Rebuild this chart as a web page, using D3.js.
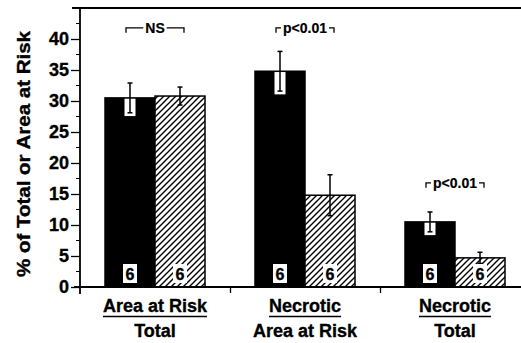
<!DOCTYPE html>
<html>
<head>
<meta charset="utf-8">
<script src="https://cdn.jsdelivr.net/npm/d3@7"></script>
<style>
  body { margin: 0; background: #fff; }
  svg text { font-family: "Liberation Sans", Arial, sans-serif; font-weight: bold; fill: #000; stroke: #000; stroke-width: 0.35px; }
</style>
</head>
<body>
<div id="body"></div>
<script>
// data
var groups = ['risk', 'necArea', 'necTotal'];
var labelTop = ['Area at Risk', 'Necrotic', 'Necrotic'];
var labelBottom = ['Total', 'Area at Risk', 'Total'];
var series = ['control', 'treated'];
var controlMean = [30.5, 34.8, 10.5];
var controlErr = [2.4, 3.2, 1.6];
var treatedMean = [30.8, 14.8, 4.7];
var treatedErr = [1.45, 3.3, 0.9];
var nLabels = [6, 6, 6];
var sigText = ['NS', 'p<0.01', 'p<0.01'];
var sigLevel = [41.8, 41.8, 16.8];
var yTicks = [0, 5, 10, 15, 20, 25, 30, 35, 40];
var yMinor = [2.5, 7.5, 12.5, 17.5, 22.5, 27.5, 32.5, 37.5, 42.5];

var width = 521, height = 343;

var svg = d3.select('#body').append('svg')
    .attr('width', width)
    .attr('height', height);

var y = d3.scaleLinear().domain([0, 45]).range([287, 8]);
var x0 = d3.scaleBand().domain(groups).range([80, 530]);
var x1 = d3.scaleBand().domain(series).range([25, 125]);
var xEdge = d3.scaleLinear().domain([0, 3]).range([80, 530]);

var defs = svg.append('defs');
var pat = defs.append('pattern')
    .attr('id', 'hatch')
    .attr('patternUnits', 'userSpaceOnUse')
    .attr('width', 6)
    .attr('height', 6);
pat.append('rect').attr('width', 6).attr('height', 6).attr('fill', '#fff');
pat.append('path')
    .attr('d', 'M-1,1 l2,-2 M0,6 l6,-6 M5,7 l2,-2')
    .attr('stroke', '#000')
    .attr('stroke-width', 1.4);

var rows = groups.map(function(g, i) {
    return {
        group: g, i: i,
        bars: [
            {s: 'control', v: controlMean[i], e: controlErr[i]},
            {s: 'treated', v: treatedMean[i], e: treatedErr[i]}
        ]
    };
});

// bars
var gGroups = svg.selectAll('g.grp')
    .data(rows)
    .enter()
    .append('g')
    .attr('class', 'grp')
    .attr('transform', function(d) { return 'translate(' + x0(d.group) + ',0)'; });

gGroups.each(function(row) {
    var g = d3.select(this);
    row.bars.forEach(function(b) {
        var bx = x1(b.s), bw = x1.bandwidth(), cx = bx + bw / 2;
        g.append('rect')
            .attr('x', bx)
            .attr('y', y(b.v))
            .attr('width', bw)
            .attr('height', y(0) - y(b.v))
            .attr('fill', b.s === 'control' ? '#000' : 'url(#hatch)')
            .attr('stroke', '#000')
            .attr('stroke-width', 1.5);
        if (b.s === 'control') {
            g.append('rect')
                .attr('x', cx - 5.5)
                .attr('y', y(b.v) + 0.8)
                .attr('width', 11)
                .attr('height', y(b.v - b.e) - y(b.v) + 2.5)
                .attr('fill', '#fff');
        }
        // error bar
        g.append('line')
            .attr('x1', cx).attr('x2', cx)
            .attr('y1', y(b.v + b.e)).attr('y2', y(b.v - b.e))
            .attr('stroke', '#000').attr('stroke-width', 1.5);
        [b.v + b.e, b.v - b.e].forEach(function(v) {
            g.append('line')
                .attr('x1', cx - 2.5).attr('x2', cx + 2.5)
                .attr('y1', y(v)).attr('y2', y(v))
                .attr('stroke', '#000').attr('stroke-width', 1.5);
        });
        // n label
        g.append('rect')
            .attr('x', cx - 7)
            .attr('y', 264)
            .attr('width', 14)
            .attr('height', 19)
            .attr('fill', '#fff');
        g.append('text')
            .attr('x', cx)
            .attr('y', 279.5)
            .attr('text-anchor', 'middle')
            .style('font-size', '16px')
            .text(nLabels[row.i]);
    });

    // significance bracket
    var c = x0.bandwidth() / 2;
    var ly = y(sigLevel[row.i]);
    var t = g.append('text')
        .attr('x', c)
        .attr('y', ly + 5)
        .attr('text-anchor', 'middle')
        .style('font-size', '14px')
        .style('stroke-width', '0.2px')
        .text(sigText[row.i]);
    var tw = t.node().getComputedTextLength();
    var half = 29;
    var path = 'M' + (c - half) + ',' + (ly + 5) + 'V' + ly + 'H' + (c - tw / 2 - 2) +
        'M' + (c + tw / 2 + 2) + ',' + ly + 'H' + (c + half) + 'V' + (ly + 5);
    g.append('path')
        .attr('d', path)
        .attr('fill', 'none')
        .attr('stroke', '#000')
        .attr('stroke-width', 1.3);

    // category labels
    var top = g.append('text')
        .attr('x', c)
        .attr('y', 312)
        .attr('text-anchor', 'middle')
        .style('font-size', '18px')
        .text(labelTop[row.i]);
    var w = top.node().getComputedTextLength();
    g.append('line')
        .attr('x1', c - w / 2).attr('x2', c + w / 2)
        .attr('y1', 316.5).attr('y2', 316.5)
        .attr('stroke', '#000').attr('stroke-width', 1.5);
    g.append('text')
        .attr('x', c)
        .attr('y', 337)
        .attr('text-anchor', 'middle')
        .style('font-size', '18px')
        .text(labelBottom[row.i]);
});

// axes
var axes = svg.append('g').attr('class', 'axes');

var yAxis = d3.axisLeft(y).tickValues(yTicks).tickSize(9).tickPadding(2).tickSizeOuter(0);
var gy = axes.append('g')
    .attr('transform', 'translate(80,0)')
    .call(yAxis);
gy.select('.domain').remove();
gy.selectAll('.tick line').attr('stroke', '#000').attr('stroke-width', 1.3);
gy.selectAll('.tick text').style('font-size', '18px').attr('font-family', null).attr('fill', null);

axes.append('g')
    .attr('transform', 'translate(80,0)')
    .selectAll('line')
    .data(yMinor)
    .enter()
    .append('line')
    .attr('x1', -4).attr('x2', 0)
    .attr('y1', function(d) { return y(d); })
    .attr('y2', function(d) { return y(d); })
    .attr('stroke', '#000').attr('stroke-width', 1);

axes.append('line')
    .attr('x1', 80).attr('x2', 80)
    .attr('y1', y(45)).attr('y2', y(0) + 7)
    .attr('stroke', '#000').attr('stroke-width', 1.8);

var xAxis = d3.axisBottom(xEdge).tickValues([1, 2]).tickFormat('').tickSize(6).tickSizeOuter(0);
var gx = axes.append('g')
    .attr('transform', 'translate(0,' + y(0) + ')')
    .call(xAxis);
gx.select('.domain').attr('d', 'M74,0H521').attr('stroke', '#000').attr('stroke-width', 1.8);
gx.selectAll('.tick line').attr('stroke', '#000').attr('stroke-width', 1.3);

// top frame line
axes.append('line')
    .attr('x1', 72).attr('x2', 521)
    .attr('y1', y(45)).attr('y2', y(45))
    .attr('stroke', '#000').attr('stroke-width', 1.8);

// y title
svg.append('text')
    .attr('transform', 'translate(30,154) rotate(-90)')
    .attr('text-anchor', 'middle')
    .attr('textLength', 246)
    .attr('lengthAdjust', 'spacingAndGlyphs')
    .style('font-size', '18px')
    .text('% of Total or Area at Risk');
</script>
</body>
</html>
